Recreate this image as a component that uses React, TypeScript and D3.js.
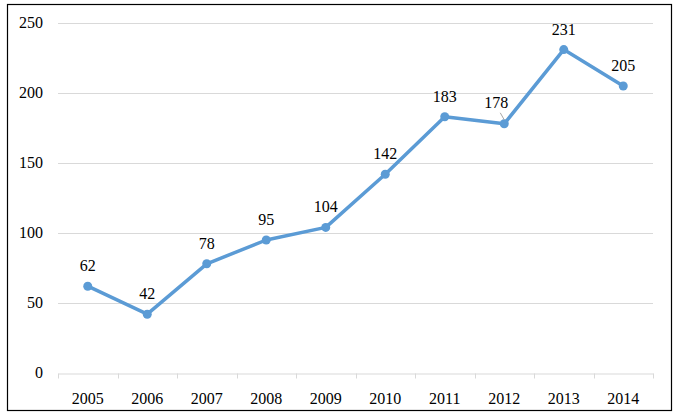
import { useEffect, useRef } from "react";
import * as d3 from "d3";

const years = ["2005", "2006", "2007", "2008", "2009", "2010", "2011", "2012", "2013", "2014"];
const counts = [62, 42, 78, 95, 104, 142, 183, 178, 231, 205];
const yTicks = [0, 50, 100, 150, 200, 250];

export default function App() {
  const svgRef = useRef<SVGSVGElement>(null);

  useEffect(() => {
    if (!svgRef.current) return;
    const width = 678;
    const height = 417;
    const margin = { top: 23, right: 25, bottom: 44, left: 58 };
    const innerW = 653 - margin.left;
    const innerH = 373 - margin.top;
    const font = "Liberation Serif";

    const svg = d3.select(svgRef.current).attr("width", width).attr("height", height);
    svg.selectAll("*").remove();

    svg
      .append("rect")
      .attr("x", 7.5)
      .attr("y", 4.5)
      .attr("width", 664)
      .attr("height", 406)
      .attr("fill", "#ffffff")
      .attr("stroke", "#000000")
      .attr("stroke-width", 1.2);

    const g = svg.append("g").attr("transform", `translate(${margin.left},${margin.top})`);

    const x = d3.scaleBand<string>().domain(years).range([0, innerW]);
    const y = d3.scaleLinear().domain([0, 250]).range([innerH, 0]);

    // gridlines
    g.selectAll("line.grid")
      .data(yTicks.filter((t) => t > 0))
      .join("line")
      .attr("class", "grid")
      .attr("x1", 0)
      .attr("x2", innerW)
      .attr("y1", (d) => Math.round(y(d)) + 0.5)
      .attr("y2", (d) => Math.round(y(d)) + 0.5)
      .attr("stroke", "#d9d9d9")
      .attr("stroke-width", 1);

    // y labels
    g.selectAll("text.ylab")
      .data(yTicks)
      .join("text")
      .attr("class", "ylab")
      .attr("x", -15)
      .attr("y", (d) => y(d) + 5)
      .attr("text-anchor", "end")
      .attr("font-family", font)
      .attr("font-size", 16)
      .attr("fill", "#000")
      .text((d) => d);

    // x axis
    const xAxis = g
      .append("g")
      .attr("transform", `translate(0,${Math.round(innerH) + 0.5})`)
      .call(d3.axisBottom(x).tickSize(0).tickPadding(19));
    xAxis.attr("font-family", font).attr("font-size", 16);
    xAxis.select(".domain").attr("stroke", "#d9d9d9");
    xAxis.selectAll("text").attr("fill", "#000");
    const bounds = [...years.map((d) => x(d)!), innerW];
    xAxis
      .selectAll("line.tk")
      .data(bounds)
      .join("line")
      .attr("class", "tk")
      .attr("x1", (d) => Math.round(d) + 0.5)
      .attr("x2", (d) => Math.round(d) + 0.5)
      .attr("y1", 0)
      .attr("y2", 5)
      .attr("stroke", "#d9d9d9");

    const cx = (i: number) => x(years[i])! + x.bandwidth() / 2;
    const line = d3
      .line<number>()
      .x((_, i) => cx(i))
      .y((d) => y(d));

    g.append("path")
      .datum(counts)
      .attr("fill", "none")
      .attr("stroke", "#5b9bd5")
      .attr("stroke-width", 3.5)
      .attr("stroke-linejoin", "round")
      .attr("d", line);

    g.selectAll("circle.pt")
      .data(counts)
      .join("circle")
      .attr("class", "pt")
      .attr("cx", (_, i) => cx(i))
      .attr("cy", (d) => y(d))
      .attr("r", 4.5)
      .attr("fill", "#5b9bd5");

    // leader line for the 2012 label
    const i12 = years.indexOf("2012");
    g.append("line")
      .attr("x1", cx(i12) - 4)
      .attr("y1", y(counts[i12]) - 11)
      .attr("x2", cx(i12))
      .attr("y2", y(counts[i12]) - 4)
      .attr("stroke", "#a6a6a6")
      .attr("stroke-width", 1);

    g.selectAll("text.dl")
      .data(counts)
      .join("text")
      .attr("class", "dl")
      .attr("x", (_, i) => (i === i12 ? cx(i) - 8 : cx(i)))
      .attr("y", (d, i) => (i === i12 ? y(d) - 16 : y(d) - 15))
      .attr("text-anchor", "middle")
      .attr("font-family", font)
      .attr("font-size", 16)
      .attr("fill", "#000")
      .text((d) => d);
  }, []);

  return (
    <svg
      ref={svgRef}
      style={{ position: "absolute", left: 0, top: 0, display: "block" }}
      role="img"
      aria-label="Line chart 2005-2014"
    />
  );
}
